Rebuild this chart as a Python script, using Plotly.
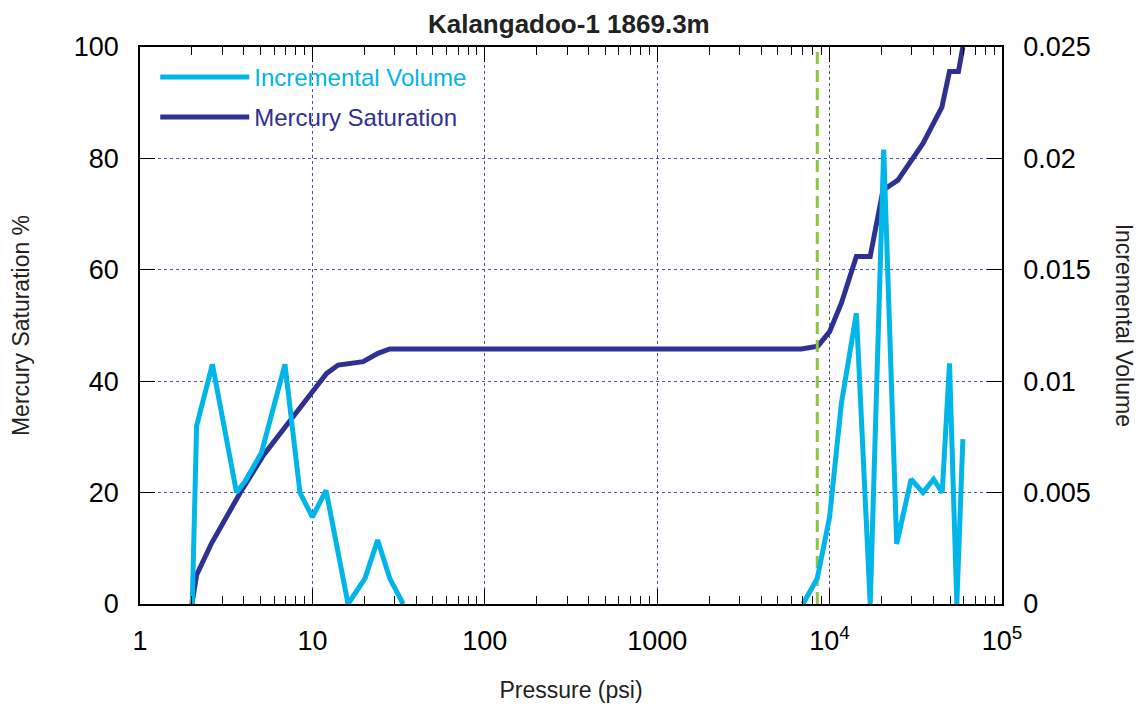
import plotly.graph_objects as go

# Mercury saturation curve (pressure psi, saturation %)
sat_pressure = [2.0, 2.13, 2.6, 3.8, 5.2, 7.4, 10.0, 12.1, 14.1, 19.7, 24.0, 28.1,
                6860, 8550, 10000, 11700, 14300, 17200, 20400, 24900, 34800,
                44800, 49600, 55900, 59300]
sat_values = [0, 5.2, 10.9, 19.9, 26.7, 33.0, 38.1, 41.4, 42.9, 43.5, 45.0, 45.8,
              45.8, 46.3, 48.9, 54.0, 62.4, 62.4, 74.3, 76.1, 82.7,
              89.2, 95.6, 95.6, 100]

# Incremental volume curve (pressure psi, volume); None = no data between clusters
vol_pressure = [2.01, 2.13, 2.63, 3.18, 3.63, 4.06, 5.07, 6.93, 8.47, 10.0, 12.0,
                16.1, 20.2, 23.9, 28.1, 33.6, None,
                7000, 8480, 10000, 11700, 14300, 17200, 20600, 24500, 29700,
                34800, 40100, 45000, 49600, 54700, 59300]
vol_values = [0, 0.0080, 0.01076, 0.0072, 0.0050, 0.0055, 0.0068, 0.01076, 0.0050,
              0.0039, 0.0051, 0, 0.00115, 0.00287, 0.00115, 0, None,
              0, 0.00115, 0.0039, 0.0090, 0.01305, 0, 0.0204, 0.0027, 0.0056,
              0.0050, 0.0056, 0.0050, 0.0108, 0, 0.0074]

# threshold pressure marker
threshold_psi = 8480

x_tickvals = [1, 10, 100, 1000, 10000, 100000]
x_ticktext = ["1", "10", "100", "1000", "10<sup>4</sup>", "10<sup>5</sup>"]

NAVY = "#2E3192"
CYAN = "#00B5E8"
GREEN = "#8DC63F"
GRID = "#4F52A8"
FONT = "Liberation Sans, Arial, sans-serif"

fig = go.Figure()

fig.add_trace(go.Scatter(
    x=sat_pressure, y=sat_values, mode="lines",
    name=f'<span style="color:{NAVY}">Mercury Saturation</span>',
    line=dict(color=NAVY, width=5),
    legendgroup="b", legendrank=2,
))

fig.add_trace(go.Scatter(
    x=[threshold_psi, threshold_psi], y=[0, 100], mode="lines",
    line=dict(color=GREEN, width=3, dash="12px,6px"),
    showlegend=False,
))

fig.add_trace(go.Scatter(
    x=vol_pressure, y=vol_values, mode="lines", yaxis="y2",
    name=f'<span style="color:{CYAN}">Incremental Volume</span>',
    line=dict(color=CYAN, width=5), connectgaps=False,
    legendgroup="a", legendrank=1,
))

fig.update_layout(
    width=1148, height=711,
    margin=dict(l=132, r=154, t=39, b=115, autoexpand=False),
    paper_bgcolor="white", plot_bgcolor="white",
    font=dict(family=FONT, color="black"),
    title=dict(text="<b>Kalangadoo-1 1869.3m</b>", x=0.4975, xref="paper",
               xanchor="center", yref="container", y=0.978, yanchor="middle",
               font=dict(size=26, color="#222222")),
    legend=dict(x=0.0177, y=0.986, xanchor="left", yanchor="top",
                bgcolor="rgba(0,0,0,0)", font=dict(size=24),
                itemwidth=89, traceorder="grouped", tracegroupgap=6),
    xaxis=dict(
        type="log", range=[0, 5],
        tickvals=x_tickvals, ticktext=x_ticktext,
        tickfont=dict(size=27), ticklabelstandoff=12,
        ticks="inside", ticklen=15, tickcolor="black",
        showline=True, linecolor="black", linewidth=1.5, mirror="ticks",
        showgrid=True, gridcolor=GRID, griddash="dot", gridwidth=1,
        minor=dict(ticks="inside", ticklen=8, tickcolor="black", dtick="D1",
                   showgrid=False),
        title=dict(text="Pressure (psi)", font=dict(size=23, color="#222222"),
                   standoff=27),
    ),
    yaxis=dict(
        range=[0, 100], tickvals=[0, 20, 40, 60, 80, 100],
        tickfont=dict(size=27), ticklabelstandoff=14,
        ticks="inside", ticklen=15, tickcolor="black",
        showline=True, linecolor="black", linewidth=1.5,
        showgrid=True, gridcolor=GRID, griddash="dot", gridwidth=1,
        zeroline=False,
        title=dict(text="Mercury Saturation %", font=dict(size=23, color="#222222"),
                   standoff=38),
    ),
    yaxis2=dict(
        overlaying="y", side="right", range=[0, 0.025],
        tickvals=[0, 0.005, 0.01, 0.015, 0.02, 0.025],
        ticktext=["0", "0.005", "0.01", "0.015", "0.02", "0.025"],
        tickfont=dict(size=27), ticklabelstandoff=14,
        ticks="inside", ticklen=15, tickcolor="black",
        showline=True, linecolor="black", linewidth=1.5,
        showgrid=False, zeroline=False,
    ),
    annotations=[dict(
        text="Incremental Volume", textangle=90, xref="paper", yref="paper",
        x=1.1425, y=0.5, xanchor="center", yanchor="middle", showarrow=False,
        font=dict(size=23, color="#222222"),
    )],
)

fig.write_html("out.html")
